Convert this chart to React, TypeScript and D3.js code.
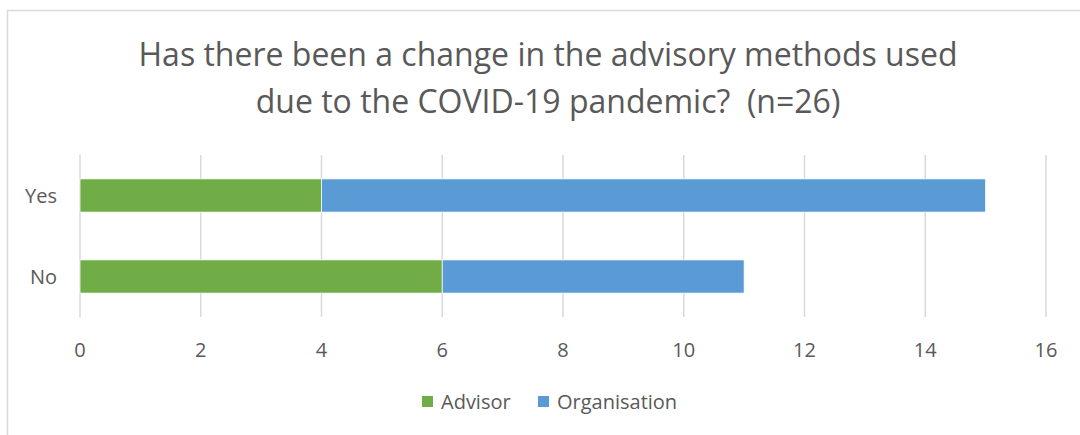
import React, { useEffect, useRef } from 'react';
import * as d3 from 'd3';

const categories = ['Yes', 'No'];
const seriesNames = ['Advisor', 'Organisation'];
const advisorValues = [4, 6];
const organisationValues = [11, 5];
const xTicks = [0, 2, 4, 6, 8, 10, 12, 14, 16];
const titleLines = [
  'Has there been a change in the advisory methods used',
  'due to the COVID-19 pandemic?  (n=26)',
];

const colors = ['#70AD47', '#5B9BD5'];
const FONT = "'Open Sans', 'Noto Sans', sans-serif";

const App: React.FC = () => {
  const svgRef = useRef<SVGSVGElement>(null);
  const width = 1080;
  const height = 435;

  useEffect(() => {
    if (!svgRef.current) return;
    const svg = d3.select(svgRef.current);
    svg.selectAll('*').remove();

    // chart frame
    svg.append('rect')
      .attr('x', 7.5).attr('y', 10.5)
      .attr('width', 1100).attr('height', 500)
      .attr('fill', '#fff')
      .attr('stroke', '#D9D9D9')
      .attr('stroke-width', 1.5);

    const x = d3.scaleLinear().domain([0, 16]).range([80, 1046]);
    const y = d3.scaleBand<string>()
      .domain(categories)
      .range([155, 317])
      .paddingInner(0.59)
      .paddingOuter(0.295);

    // Title
    svg.append('g')
      .selectAll('text')
      .data(titleLines)
      .enter()
      .append('text')
      .attr('x', 548)
      .attr('y', (_, i) => 66 + i * 47)
      .attr('text-anchor', 'middle')
      .style('font-family', FONT)
      .style('font-size', '32px')
      .style('white-space', 'pre')
      .style('fill', '#595959')
      .text(d => d);

    // Gridlines
    svg.append('g')
      .selectAll('line')
      .data(xTicks)
      .enter()
      .append('line')
      .attr('x1', d => x(d)).attr('x2', d => x(d))
      .attr('y1', 155).attr('y2', 317)
      .attr('stroke', '#D9D9D9')
      .attr('stroke-width', 1.5);

    // Stacked bars
    const rows = categories.map((c, i) => ({
      category: c,
      Advisor: advisorValues[i],
      Organisation: organisationValues[i],
    }));
    const stack = d3.stack<any>().keys(seriesNames)(rows);

    svg.append('g')
      .selectAll('g')
      .data(stack)
      .enter()
      .append('g')
      .attr('fill', (_, i) => colors[i])
      .selectAll('rect')
      .data(d => d)
      .enter()
      .append('rect')
      .attr('x', d => x(d[0]))
      .attr('y', d => y(d.data.category) || 0)
      .attr('width', d => x(d[1]) - x(d[0]))
      .attr('height', y.bandwidth())
      .attr('stroke', '#fff')
      .attr('stroke-width', 0.75);

    // X tick labels
    svg.append('g')
      .selectAll('text')
      .data(xTicks)
      .enter()
      .append('text')
      .attr('x', d => x(d))
      .attr('y', 357)
      .attr('text-anchor', 'middle')
      .style('font-family', FONT)
      .style('font-size', '20px')
      .style('fill', '#595959')
      .text(d => d);

    // Category labels
    svg.append('g')
      .selectAll('text')
      .data(categories)
      .enter()
      .append('text')
      .attr('x', 57)
      .attr('y', d => (y(d) || 0) + y.bandwidth() / 2 + 7.5)
      .attr('text-anchor', 'end')
      .style('font-family', FONT)
      .style('font-size', '20px')
      .style('fill', '#595959')
      .text(d => d);

    // Legend
    const legendX = [422, 538];
    const legend = svg.append('g')
      .selectAll('g')
      .data(seriesNames)
      .enter()
      .append('g')
      .attr('transform', (_, i) => `translate(${legendX[i]},396)`);
    legend.append('rect')
      .attr('width', 11).attr('height', 11)
      .attr('fill', (_, i) => colors[i]);
    legend.append('text')
      .attr('x', 19)
      .attr('y', 13)
      .style('font-family', FONT)
      .style('font-size', '20px')
      .style('fill', '#595959')
      .text(d => d);
  }, []);

  return (
    <svg
      ref={svgRef}
      width={width}
      height={height}
      style={{ position: 'absolute', left: 0, top: 0, background: '#fff' }}
    />
  );
};

export default App;
